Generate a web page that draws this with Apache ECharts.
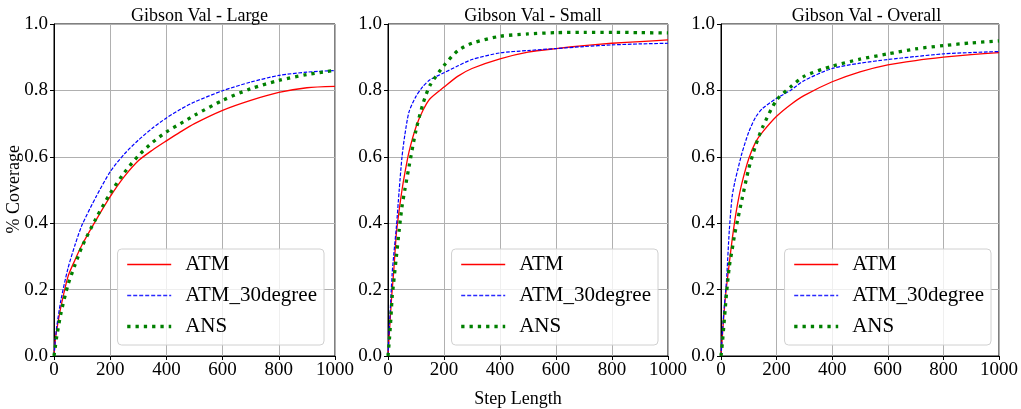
<!DOCTYPE html>
<html>
<head>
<meta charset="utf-8">
<script src="https://cdn.jsdelivr.net/npm/echarts@6/dist/echarts.min.js"></script>
<style>
  html, body { margin: 0; padding: 0; background: #fff; }
  #container { width: 1021px; height: 409px; }
</style>
</head>
<body>
<div id="container"></div>
<script>
// 每个子图的标题
var titles = ['Gibson Val - Large', 'Gibson Val - Small', 'Gibson Val - Overall'];
var seriesNames = ['ATM', 'ATM_30degree', 'ANS'];
var xTicks = [0, 200, 400, 600, 800, 1000];
var yTicks = [0.0, 0.2, 0.4, 0.6, 0.8, 1.0];

// Large
var stepLarge = [0, 5, 10, 25, 50, 75, 100, 150, 200, 250, 300, 350, 400, 450, 500, 600, 700, 800, 900, 1000];
var atmLarge = [0, 0.05, 0.08, 0.15, 0.24, 0.29, 0.335, 0.41, 0.48, 0.54, 0.588, 0.62, 0.648, 0.675, 0.70, 0.74, 0.77, 0.794, 0.808, 0.812];
var atm30Large = [0, 0.05, 0.09, 0.17, 0.265, 0.335, 0.395, 0.48, 0.555, 0.608, 0.65, 0.686, 0.717, 0.743, 0.765, 0.799, 0.825, 0.845, 0.855, 0.86];
var ansLarge = [0, 0.03, 0.06, 0.13, 0.215, 0.275, 0.33, 0.415, 0.49, 0.552, 0.603, 0.643, 0.675, 0.70, 0.725, 0.77, 0.805, 0.83, 0.848, 0.86];

// Small
var stepSmall = [0, 5, 10, 15, 20, 30, 40, 50, 60, 75, 100, 125, 150, 200, 250, 300, 400, 500, 600, 700, 800, 900, 1000];
var atmSmall = [0, 0.07, 0.14, 0.2, 0.25, 0.37, 0.44, 0.5, 0.55, 0.615, 0.69, 0.74, 0.775, 0.81, 0.843, 0.866, 0.895, 0.915, 0.926, 0.935, 0.942, 0.947, 0.952];
var atm30Small = [0, 0.09, 0.17, 0.25, 0.3, 0.39, 0.5, 0.6, 0.665, 0.735, 0.782, 0.812, 0.832, 0.853, 0.874, 0.893, 0.913, 0.92, 0.926, 0.932, 0.937, 0.94, 0.942];
var ansSmall = [0, 0.05, 0.11, 0.18, 0.22, 0.3, 0.38, 0.45, 0.5, 0.57, 0.68, 0.76, 0.815, 0.875, 0.92, 0.942, 0.963, 0.97, 0.974, 0.975, 0.975, 0.974, 0.973];

// Overall
var stepOverall = [0, 5, 10, 15, 20, 30, 40, 50, 60, 75, 100, 125, 150, 200, 250, 300, 400, 500, 600, 700, 800, 900, 1000];
var atmOverall = [0, 0.06, 0.12, 0.17, 0.21, 0.28, 0.35, 0.41, 0.46, 0.52, 0.595, 0.645, 0.675, 0.722, 0.757, 0.785, 0.826, 0.856, 0.877, 0.89, 0.9, 0.908, 0.914];
var atm30Overall = [0, 0.07, 0.13, 0.18, 0.23, 0.38, 0.48, 0.525, 0.56, 0.61, 0.675, 0.72, 0.746, 0.776, 0.80, 0.83, 0.866, 0.882, 0.893, 0.902, 0.91, 0.914, 0.917];
var ansOverall = [0, 0.04, 0.09, 0.14, 0.19, 0.27, 0.32, 0.37, 0.41, 0.47, 0.565, 0.635, 0.69, 0.771, 0.81, 0.843, 0.873, 0.894, 0.91, 0.925, 0.935, 0.943, 0.949];

var panels = [
    { x: stepLarge, ys: [atmLarge, atm30Large, ansLarge] },
    { x: stepSmall, ys: [atmSmall, atm30Small, ansSmall] },
    { x: stepOverall, ys: [atmOverall, atm30Overall, ansOverall] }
];

var FONT = 'Liberation Serif, Times New Roman, serif';
var gridLeft = [54, 388, 721];
var gridWidth = [281, 280, 281];
var legendRight = [697, 363, 30];

var lineStyles = [
    { color: '#ff0000', width: 1.3, type: 'solid' },
    { color: '#0000ff', width: 1.2, type: [3.7, 1.6] },
    { color: '#008000', width: 3.3, type: [3.3, 5.0], cap: 'butt' }
];
// 图例中的线样式
var legendLines = [
    { color: '#ff0000', width: 1.3, type: 'solid' },
    { color: '#2a2aff', width: 1.6, type: [4, 2] },
    { color: '#008000', width: 3.3, type: [3.3, 5.0], cap: 'butt' }
];

function zip(xs, ys) {
    var out = [];
    for (var i = 0; i < xs.length; i++) out.push([xs[i], ys[i]]);
    return out;
}

var grid = [], xAxis = [], yAxis = [], series = [], title = [], legend = [];

var legendData = seriesNames.map(function (n, i) {
    return { name: n, lineStyle: legendLines[i], itemStyle: { opacity: 0 } };
});

for (var p = 0; p < 3; p++) {
    grid.push({
        left: gridLeft[p], top: 24, width: gridWidth[p], height: 332,
        show: true, borderColor: '#000', borderWidth: 1
    });
    title.push({
        text: titles[p],
        left: gridLeft[p] + gridWidth[p] / 2, top: 2, textAlign: 'center',
        textStyle: { fontFamily: FONT, fontSize: 18, fontWeight: 'normal', color: '#000' }
    });
    xAxis.push({
        type: 'value', gridIndex: p, min: 0, max: 1000, interval: 200,
        axisLine: { lineStyle: { color: '#000', width: 1 } },
        axisTick: { length: 4, lineStyle: { color: '#000' } },
        axisLabel: { fontFamily: FONT, fontSize: 19, color: '#000', margin: 5,
            formatter: function (v) { return xTicks.indexOf(v) >= 0 ? String(v) : ''; } },
        splitLine: { lineStyle: { color: '#b0b0b0', width: 1 } }
    });
    yAxis.push({
        type: 'value', gridIndex: p, min: 0, max: 1, interval: 0.2,
        axisLine: { show: true, lineStyle: { color: '#000', width: 1 } },
        axisTick: { show: true, length: 4, lineStyle: { color: '#000' } },
        axisLabel: { fontFamily: FONT, fontSize: 19, color: '#000', margin: 6,
            formatter: function (v) { return v.toFixed(1); } },
        splitLine: { lineStyle: { color: '#b0b0b0', width: 1 } }
    });
    for (var s = 0; s < 3; s++) {
        series.push({
            name: seriesNames[s], type: 'line',
            xAxisIndex: p, yAxisIndex: p,
            data: zip(panels[p].x, panels[p].ys[s]),
            showSymbol: false, symbol: 'none',
            smooth: 0.25,
            lineStyle: lineStyles[s],
            itemStyle: { color: lineStyles[s].color },
            z: 3 + s, animation: false
        });
    }
    legend.push({
        data: legendData, orient: 'vertical',
        right: legendRight[p], bottom: 64,
        itemWidth: 44, itemHeight: 15, itemGap: 10,
        padding: [5, 7, 8, 8],
        backgroundColor: 'rgba(255,255,255,0.8)',
        borderColor: '#d0d0d0', borderWidth: 1, borderRadius: 4,
        selectedMode: false,
        itemStyle: { opacity: 0 },
        textStyle: { fontFamily: FONT, fontSize: 21, color: '#000', lineHeight: 21, padding: [0, 0, 0, 9] }
    });
}

title.push({
    text: 'Step Length', left: 513, top: 385, textAlign: 'center',
    textStyle: { fontFamily: FONT, fontSize: 18, fontWeight: 'normal', color: '#000' }
});

var dom = document.getElementById('container');
var myChart = echarts.init(dom);
var option = {
    animation: false,
    title: title,
    legend: legend,
    grid: grid,
    xAxis: xAxis,
    yAxis: yAxis,
    series: series,
    graphic: [{
        type: 'text', left: 5, top: 145, rotation: Math.PI / 2,
        style: { text: '% Coverage', font: '18px ' + FONT, fill: '#000' }
    }]
};
myChart.setOption(option);
</script>
</body>
</html>
